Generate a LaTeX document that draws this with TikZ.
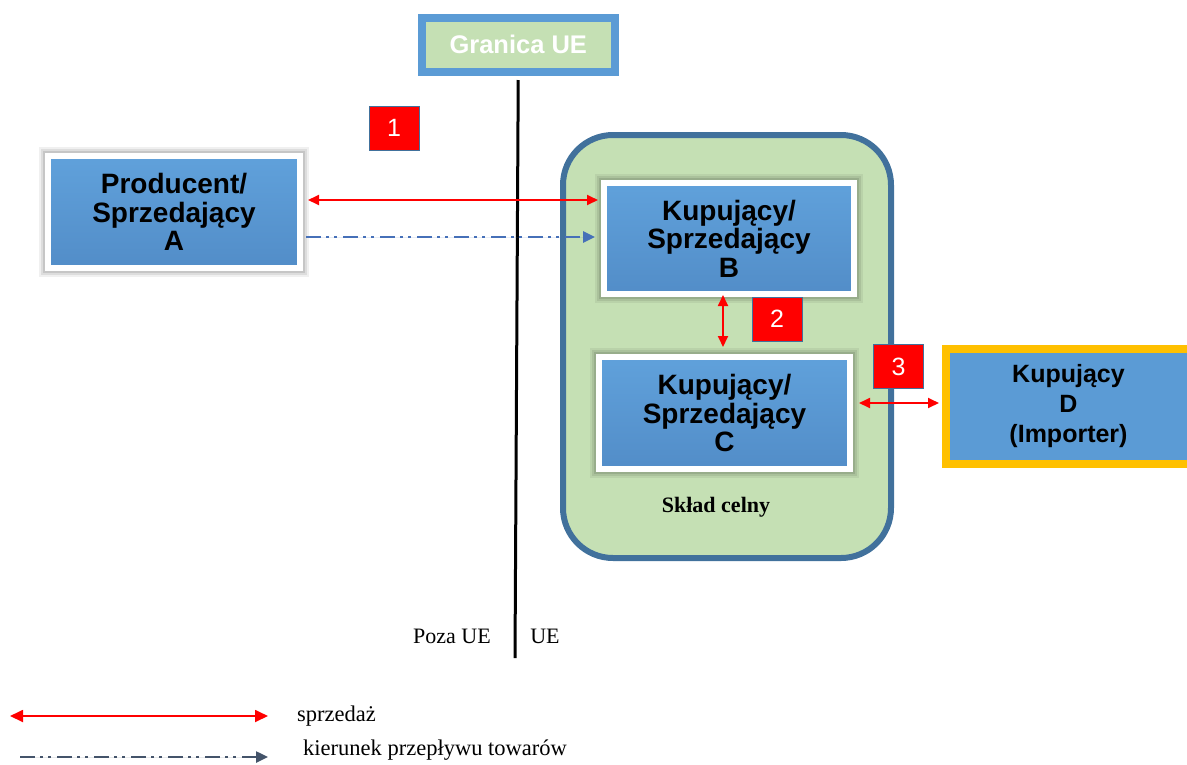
\documentclass[tikz,border=0pt]{standalone}
\usepackage{fontspec}
\setmainfont{Liberation Serif}
\setsansfont{Liberation Sans}
\usetikzlibrary{arrows.meta}

\definecolor{boxblue}{HTML}{5B9BD5}
\definecolor{boxtop}{HTML}{60A1DB}
\definecolor{boxbottom}{HTML}{528DC8}
\definecolor{edgeblue}{HTML}{41719C}
\definecolor{zonegreen}{HTML}{C5E0B4}
\definecolor{flowblue}{HTML}{4670B8}
\definecolor{slate}{HTML}{44546A}
\definecolor{amber}{HTML}{FFC000}
\definecolor{salered}{HTML}{FF0000}

\tikzset{
  softshadow/.style={
    preaction={draw=black, draw opacity=0.06, line width=18pt},
    preaction={draw=black, draw opacity=0.08, line width=14pt},
    preaction={draw=black, draw opacity=0.10, line width=10pt}},
  party/.style={softshadow, draw=white, line width=6pt, top color=boxtop, bottom color=boxbottom,
    inner sep=0pt, align=center, text=black,
    font=\sffamily\bfseries\fontsize{28}{28.5}\selectfont},
  importer/.style={draw=amber, line width=8pt, fill=boxblue, inner sep=0pt,
    align=center, text=black, font=\sffamily\bfseries\fontsize{25}{30}\selectfont},
  border/.style={draw=boxblue, line width=8pt, fill=zonegreen, inner sep=0pt,
    text=white, font=\sffamily\bfseries\fontsize{25.5}{25.5}\selectfont},
  warehouse/.style={draw=edgeblue, line width=6pt, fill=zonegreen, rounded corners=50pt,
    inner sep=0pt},
  numbox/.style={fill=salered, draw=edgeblue, line width=1pt, inner sep=0pt,
    minimum width=50pt, minimum height=44pt, text=white,
    font=\sffamily\fontsize{25}{25}\selectfont},
  serifnote/.style={inner sep=0pt, font=\fontsize{22}{22}\selectfont},
  sale/.style={draw=salered, line width=1.8pt,
    {Triangle[length=11pt,width=10pt]}-{Triangle[length=11pt,width=10pt]}},
  flow/.style={line width=2.5pt, dash pattern=on 15pt off 5pt on 3pt off 5pt on 3pt off 6pt,
    -{Triangle[length=12pt,width=11pt]}},
}

\begin{document}
\begin{tikzpicture}[x=1pt, y=-1pt]
\useasboundingbox (0,0) rectangle (1187,764);

% customs warehouse zone
\node[warehouse, minimum width=328pt, minimum height=423pt] (sklad) at (727,346.5) {};
\node[serifnote, font=\bfseries\fontsize{22}{22}\selectfont] (skladlbl) at (716,507) {Skład celny};

% EU border line and its label
\coordinate (lineend) at (515,658);
\node[border, minimum width=193.5pt, minimum height=54.5pt] (granica) at (518.25,44.75) {Granica UE};
\draw[line width=3pt, shorten <=4pt] (granica.south) -- (lineend);
\node[serifnote] (poza) at (452,636) {Poza UE};
\node[serifnote] (ue) at (545,636) {UE};

% trading parties
\node[party, minimum width=252pt, minimum height=112pt] (A) at (174,212)
  {Producent/\\Sprzedający\\A};
\node[party, minimum width=250pt, minimum height=111pt] (B) at (729,238.5)
  {Kupujący/\\Sprzedający\\B};
\node[party, minimum width=251pt, minimum height=112pt] (C) at (724.5,413)
  {Kupujący/\\Sprzedający\\C};
\node[importer, minimum width=245pt, minimum height=115pt] (D) at (1068.5,406.5)
  {Kupujący\\D\\(Importer)};

% transaction numbers
\node[numbox] (n1) at (394,128) {1};
\node[numbox] (n2) at (777,319) {2};
\node[numbox] (n3) at (898.5,366.5) {3};

% sales and flow of goods
\coordinate (ysaleAB) at (0,200);
\coordinate (yflowAB) at (0,237);
\coordinate (xsaleBC) at (723,0);
\coordinate (ysaleCD) at (0,403);
\draw[sale, shorten <=5pt, shorten >=3pt] (A.east |- ysaleAB) -- (B.west |- ysaleAB);
\draw[flow, draw=flowblue, fill=flowblue, shorten <=3pt, shorten >=6pt]
  (A.east |- yflowAB) -- (B.west |- yflowAB);
\draw[sale, shorten <=-2pt, shorten >=7pt] (B.south -| xsaleBC) -- (C.north -| xsaleBC);
\draw[sale, shorten <=6pt, shorten >=3pt] (C.east |- ysaleCD) -- (D.west |- ysaleCD);

% legend
\coordinate (l1a) at (10,716);
\coordinate (l1b) at (268,716);
\coordinate (l2a) at (20,757);
\coordinate (l2b) at (268,757);
\draw[sale, {Triangle[length=13pt,width=12pt]}-{Triangle[length=13pt,width=12pt]}] (l1a) -- (l1b);
\draw[flow, draw=slate, fill=slate] (l2a) -- (l2b);
\node[serifnote, anchor=west, font=\fontsize{22.5}{22.5}\selectfont] (legsale) at (297,716) {sprzedaż};
\node[serifnote, anchor=west, font=\fontsize{22.5}{22.5}\selectfont] (legflow) at (303,750) {kierunek przepływu towarów};
\end{tikzpicture}
\end{document}
